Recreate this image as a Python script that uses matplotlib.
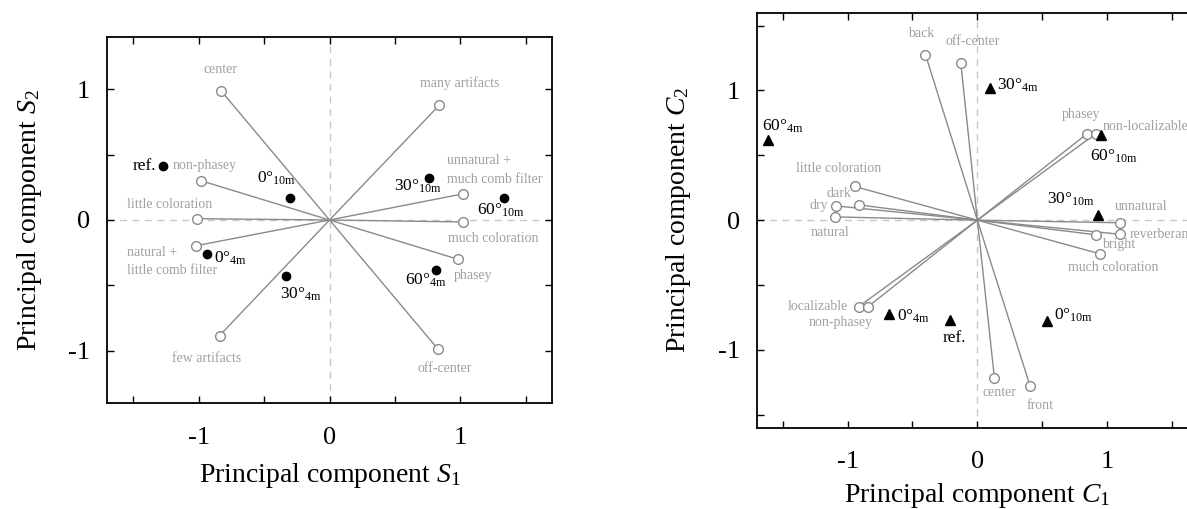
import matplotlib
matplotlib.use("Agg")
import matplotlib.pyplot as plt
from matplotlib.ticker import FixedLocator, FuncFormatter

plt.rcParams['font.family'] = ['Liberation Serif', 'DejaVu Serif']
plt.rcParams['mathtext.fontset'] = 'custom'
plt.rcParams['mathtext.rm'] = 'Liberation Serif'
plt.rcParams['mathtext.it'] = 'Liberation Serif:italic'
plt.rcParams['axes.unicode_minus'] = False

# left plot: attribute loadings (S)
s_names = ["center", "many artifacts", "non-phasey", "little coloration",
           "unnatural +\nmuch comb filter", "much coloration",
           "natural +\nlittle comb filter", "phasey", "few artifacts", "off-center"]
s_x = [-0.83, 0.84, -0.98, -1.015, 1.02, 1.02, -1.02, 0.98, -0.84, 0.83]
s_y = [0.99, 0.88, 0.30, 0.01, 0.20, -0.015, -0.197, -0.30, -0.885, -0.99]

# left plot: conditions
s_pt_names = ["ref.", "0°$_{\\mathrm{10m}}$", "30°$_{\\mathrm{10m}}$", "60°$_{\\mathrm{10m}}$",
              "0°$_{\\mathrm{4m}}$", "30°$_{\\mathrm{4m}}$", "60°$_{\\mathrm{4m}}$"]
s_pt_x = [-1.27, -0.305, 0.763, 1.333, -0.934, -0.336, 0.815]
s_pt_y = [0.41, 0.167, 0.325, 0.171, -0.263, -0.425, -0.386]

# right plot: attribute loadings (C)
c_names = ["back", "off-center", "phasey", "non-localizable", "little coloration", "dark",
           "dry", "natural", "unnatural", "reverberant", "bright", "much coloration",
           "localizable", "non-phasey", "center", "front"]
c_x = [-0.40, -0.128, 0.846, 0.913, -0.946, -0.912, -1.09, -1.095, 1.098, 1.095,
       0.915, 0.946, -0.915, -0.843, 0.131, 0.405]
c_y = [1.277, 1.215, 0.667, 0.667, 0.26, 0.118, 0.11, 0.025, -0.02, -0.108,
       -0.113, -0.26, -0.667, -0.667, -1.215, -1.275]

# right plot: conditions
c_pt_names = ["30°$_{\\mathrm{4m}}$", "60°$_{\\mathrm{4m}}$", "60°$_{\\mathrm{10m}}$",
              "30°$_{\\mathrm{10m}}$", "0°$_{\\mathrm{4m}}$", "ref.", "0°$_{\\mathrm{10m}}$"]
c_pt_x = [0.098, -1.61, 0.949, 0.93, -0.68, -0.21, 0.54]
c_pt_y = [1.02, 0.615, 0.659, 0.038, -0.723, -0.77, -0.775]

# label placement (dx px, dy px, ha)
s_off = [(0, 21, 'center'), (20, 22, 'center'), (3, 15, 'center'), (-27, 14, 'center'),
         (-16, 24, 'left'), (30, -17, 'center'), (-69, -16, 'left'), (15, -16, 'center'),
         (-13, -23, 'center'), (7, -19, 'center')]
s_pt_off = [(-7, 0, 'right'), (-13, 20, 'center'), (-11, -9, 'center'), (-3, -13, 'center'),
            (7, -4, 'left'), (15, -19, 'center'), (-10, -10, 'center')]
c_off = [(-4, 21, 'center'), (12, 21, 'center'), (-6, 19, 'center'), (7, 7, 'left'),
         (-16, 18, 'center'), (-20, 11, 'center'), (-8, 0, 'right'), (-5, -16, 'center'),
         (21, 16, 'center'), (10, 0, 'left'), (22, -10, 'center'), (13, -14, 'center'),
         (-11, 0, 'right'), (-27, -16, 'center'), (5, -15, 'center'), (10, -20, 'center')]
c_pt_off = [(7, 3, 'left'), (14, 14, 'center'), (13, -22, 'center'), (-27, 16, 'center'),
            (8, -2, 'left'), (4, -18, 'center'), (7, 5, 'left')]

line_col = "#8a8a8a"
text_col = "#a0a0a0"

fig = plt.figure(figsize=(11.87, 5.09), dpi=100)
ax1 = fig.add_axes([0.0901, 0.2083, 0.375, 0.719])
ax2 = fig.add_axes([0.6375, 0.1597, 0.3718, 0.8155])


def fmt(v, pos):
    if abs(v - round(v)) < 1e-6:
        return "%d" % round(v)
    return ""


def draw(ax, names, xs, ys, offs, pnames, px, py, poffs, marker, ms, ylim):
    ax.axhline(0, color="#c8c8c8", lw=1, ls=(0, (5, 4)), zorder=0)
    ax.axvline(0, color="#c8c8c8", lw=1, ls=(0, (5, 4)), zorder=0)
    for i in range(len(names)):
        ax.plot([0, xs[i]], [0, ys[i]], color=line_col, lw=1, zorder=1)
    ax.plot(xs, ys, 'o', mfc='white', mec=line_col, ms=7, mew=1, ls='none', zorder=2)
    for i in range(len(names)):
        dx, dy, ha = offs[i]
        ax.annotate(names[i], (xs[i], ys[i]), xytext=(dx, dy), textcoords='offset pixels',
                    ha=ha, va='center', color=text_col, fontsize=10, linespacing=1.55)
    ax.plot(px, py, marker, color='black', ms=ms, ls='none', zorder=3)
    for i in range(len(pnames)):
        dx, dy, ha = poffs[i]
        ax.annotate(pnames[i], (px[i], py[i]), xytext=(dx, dy), textcoords='offset pixels',
                    ha=ha, va='center', color='black', fontsize=12.5)
    ax.set_xlim(-1.7, 1.7)
    ax.set_ylim(-ylim, ylim)
    ax.xaxis.set_major_locator(FixedLocator([-1.5, -1, -0.5, 0, 0.5, 1, 1.5]))
    ax.yaxis.set_major_locator(FixedLocator([-1.5, -1, -0.5, 0, 0.5, 1, 1.5]))
    ax.xaxis.set_major_formatter(FuncFormatter(fmt))
    ax.yaxis.set_major_formatter(FuncFormatter(fmt))
    ax.tick_params(direction='in', top=True, right=True, length=5, width=1, labelsize=19)
    ax.tick_params(axis='x', pad=17)
    ax.tick_params(axis='y', pad=12)
    for sp in ax.spines.values():
        sp.set_linewidth(1.3)


draw(ax1, s_names, s_x, s_y, s_off, s_pt_names, s_pt_x, s_pt_y, s_pt_off, 'o', 6, 1.4)
draw(ax2, c_names, c_x, c_y, c_off, c_pt_names, c_pt_x, c_pt_y, c_pt_off, '^', 6.5, 1.6)

ax1.set_xlabel("Principal component $S_1$", fontsize=20)
ax1.set_ylabel("Principal component $S_2$", fontsize=20)
ax2.set_xlabel("Principal component $C_1$", fontsize=20)
ax2.set_ylabel("Principal component $C_2$", fontsize=20)
ax1.xaxis.set_label_coords(0.5, -0.158)
ax1.yaxis.set_label_coords(-0.142, 0.5)
ax2.xaxis.set_label_coords(0.5, -0.128)
ax2.yaxis.set_label_coords(-0.144, 0.5)

fig.savefig("out.png", dpi=100)
